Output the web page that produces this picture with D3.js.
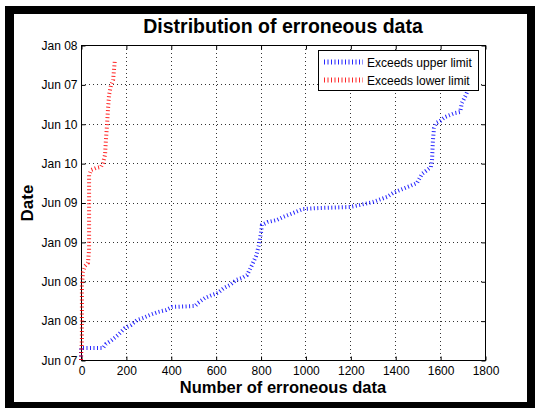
<!DOCTYPE html>
<html>
<head>
<meta charset="utf-8">
<script src="https://cdn.jsdelivr.net/npm/d3@7"></script>
<style>
  html, body { margin: 0; padding: 0; background: #fff; }
  svg { display: block; }
  text { font-family: "Liberation Sans", Arial, sans-serif; }
</style>
</head>
<body>
<svg id="chart" width="535" height="408"></svg>
<script>
// ---- data ----
const xTicks = [0, 200, 400, 600, 800, 1000, 1200, 1400, 1600, 1800];
const yTickLabels = ["Jun 07", "Jan 08", "Jun 08", "Jan 09", "Jun 09", "Jan 10", "Jun 10", "Jun 07", "Jan 08"];

// y values expressed in tick-index units of the date axis
const upperCount = [0, 0, 98, 111, 138, 165, 196, 223, 250, 276, 307, 343, 379, 405, 508, 521, 552, 584, 610, 637, 664, 691, 717, 740, 762, 780, 793, 802, 806, 833, 873, 900, 945, 989, 1065, 1198, 1243, 1301, 1363, 1390, 1421, 1466, 1497, 1519, 1542, 1559, 1564, 1568, 1573, 1582, 1600, 1622, 1666, 1689, 1697, 1715, 1724];
const upperDate = [0, 0.305, 0.305, 0.406, 0.508, 0.635, 0.813, 0.889, 1.016, 1.067, 1.143, 1.219, 1.27, 1.346, 1.371, 1.448, 1.575, 1.651, 1.702, 1.829, 1.905, 2.032, 2.083, 2.159, 2.413, 2.641, 2.921, 3.225, 3.429, 3.505, 3.556, 3.632, 3.733, 3.835, 3.86, 3.886, 3.937, 4.013, 4.14, 4.241, 4.317, 4.419, 4.495, 4.724, 4.825, 4.902, 5.079, 5.587, 5.892, 6.019, 6.07, 6.171, 6.273, 6.298, 6.527, 6.73, 6.857];

const lowerCount = [0, 4, 4, 9, 18, 31, 36, 36, 36, 45, 67, 89, 98, 107, 111, 116, 120, 125, 134, 143, 147, 151];
const lowerDate = [0, 0.508, 1.905, 2.235, 2.388, 2.464, 2.794, 4.064, 4.699, 4.826, 4.876, 4.902, 5.003, 5.206, 5.587, 5.968, 6.349, 6.73, 6.984, 7.111, 7.365, 7.619];

const seriesNames = ["Exceeds upper limit", "Exceeds lower limit"];
const seriesColors = ["#0000ff", "#ff0000"];

// ---- drawing ----
const svg = d3.select("#chart");

// outer frame
svg.append("rect").attr("x", 5).attr("y", 6).attr("width", 530).attr("height", 402).attr("fill", "#000");
svg.append("rect").attr("x", 14).attr("y", 14).attr("width", 513).attr("height", 388).attr("fill", "#fff");

const L = 81, R = 485, T = 45, B = 360;
const x = d3.scaleLinear().domain([0, 1800]).range([L, R]);
const y = d3.scaleLinear().domain([0, 8]).range([B, T]);
const yTicks = d3.range(yTickLabels.length);

// grid
const grid = svg.append("g").attr("stroke", "#333").attr("stroke-width", 1).attr("stroke-dasharray", "1,3");
grid.selectAll(".gx").data(xTicks.slice(1, -1)).join("line")
  .attr("x1", d => Math.round(x(d)) + 0.5).attr("x2", d => Math.round(x(d)) + 0.5)
  .attr("y1", T).attr("y2", B);
grid.selectAll(".gy").data(yTicks.slice(1, -1)).join("line")
  .attr("y1", d => Math.round(y(d)) + 0.5).attr("y2", d => Math.round(y(d)) + 0.5)
  .attr("x1", L).attr("x2", R);

// axes (ticks inward on all four sides)
const fmtY = i => yTickLabels[i];
const axB = svg.append("g").attr("transform", `translate(0.5,${B + 0.5})`)
  .call(d3.axisBottom(x).tickValues(xTicks).tickSize(-4).tickPadding(6).tickFormat(d3.format("d")));
const axL = svg.append("g").attr("transform", `translate(${L + 0.5},0.5)`)
  .call(d3.axisLeft(y).tickValues(yTicks).tickSize(-4).tickPadding(4).tickFormat(fmtY));
const axT = svg.append("g").attr("transform", `translate(0.5,${T + 0.5})`)
  .call(d3.axisTop(x).tickValues(xTicks).tickSize(-4).tickFormat(""));
const axR = svg.append("g").attr("transform", `translate(${R + 0.5},0.5)`)
  .call(d3.axisRight(y).tickValues(yTicks).tickSize(-4).tickFormat(""));
[axB, axL, axT, axR].forEach(g => {
  g.selectAll("text").attr("font-size", 12).attr("fill", "#000")
    .attr("font-family", "'Liberation Sans', Arial, sans-serif");
  g.select(".domain").remove();
  g.selectAll("line").attr("stroke", "#000");
});

// box
svg.append("rect").attr("x", L + 0.5).attr("y", T + 0.5).attr("width", R - L).attr("height", B - T)
  .attr("fill", "none").attr("stroke", "#000").attr("stroke-width", 1);

// series
const line = d3.line().x(d => x(d[0])).y(d => y(d[1]));
const series = [
  d3.zip(upperCount, upperDate),
  d3.zip(lowerCount, lowerDate)
];
series.forEach((s, i) => {
  svg.append("path").datum(s).attr("d", line)
    .attr("fill", "none").attr("stroke", seriesColors[i]).attr("stroke-width", 4)
    .attr("stroke-dasharray", "1,2.5").attr("stroke-opacity", 0.85);
});

// legend
const lg = svg.append("g");
lg.append("rect").attr("x", 318.5).attr("y", 50.5).attr("width", 160).attr("height", 40)
  .attr("fill", "#fff").attr("stroke", "#000");
seriesNames.forEach((n, i) => {
  const yy = 62 + i * 18;
  lg.append("line").attr("x1", 324).attr("x2", 363).attr("y1", yy).attr("y2", yy)
    .attr("stroke", seriesColors[i]).attr("stroke-width", 5).attr("stroke-dasharray", "1,2.5")
    .attr("stroke-opacity", 0.85);
  lg.append("text").attr("x", 367).attr("y", yy + 4.5).attr("font-size", 12).text(n);
});

// titles
svg.append("text").attr("x", 283).attr("y", 33).attr("text-anchor", "middle")
  .attr("font-size", 19.5).attr("font-weight", "bold").text("Distribution of erroneous data");
svg.append("text").attr("x", 283).attr("y", 393).attr("text-anchor", "middle")
  .attr("font-size", 16.5).attr("font-weight", "bold").text("Number of erroneous data");
svg.append("text").attr("transform", "translate(33,203) rotate(-90)").attr("text-anchor", "middle")
  .attr("font-size", 17).attr("font-weight", "bold").text("Date");
</script>
</body>
</html>
